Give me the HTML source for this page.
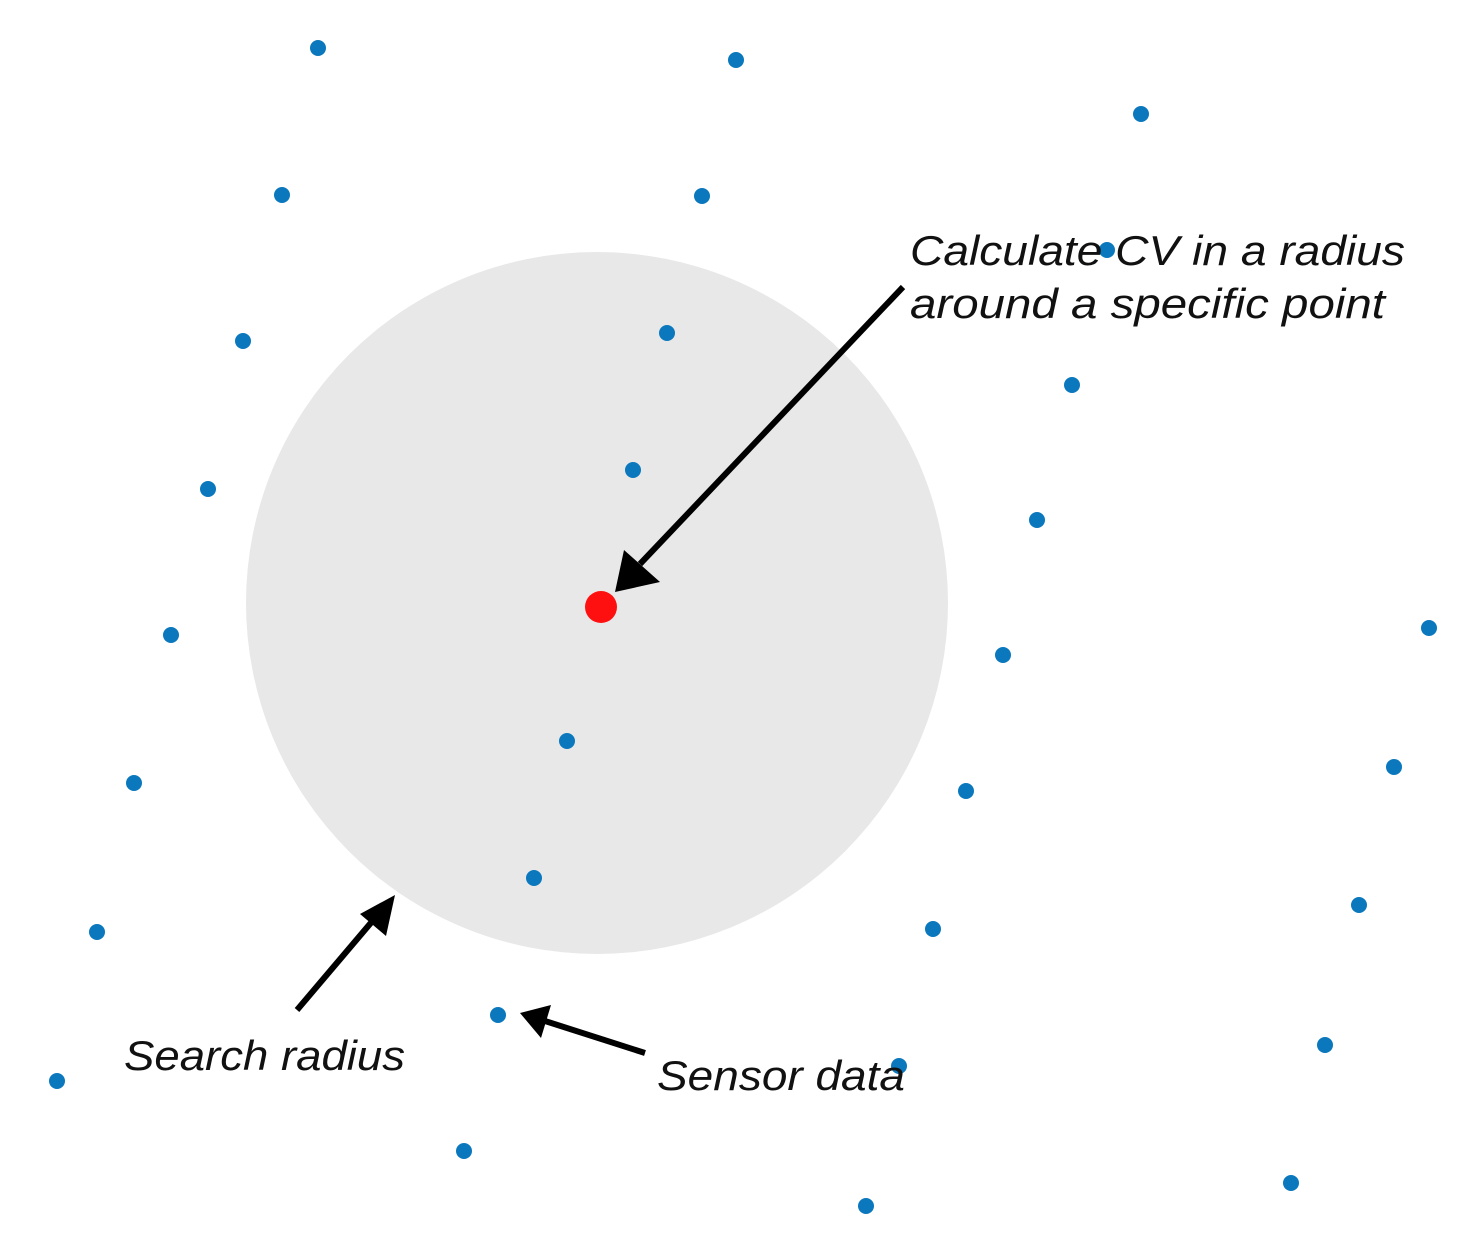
<!DOCTYPE html>
<html><head><meta charset="utf-8"><style>html,body{margin:0;padding:0;background:#fff}svg{display:block}</style></head>
<body>
<svg width="1479" height="1251" viewBox="0 0 1479 1251" xmlns="http://www.w3.org/2000/svg">
<rect width="1479" height="1251" fill="#fff"/>
<circle cx="597" cy="603" r="351" fill="#e8e8e8"/>
<g fill="#0b78bd">
<circle cx="318" cy="48" r="8"/><circle cx="736" cy="60" r="8"/><circle cx="1141" cy="114" r="8"/>
<circle cx="282" cy="195" r="8"/><circle cx="702" cy="196" r="8"/><circle cx="1107" cy="250" r="8"/>
<circle cx="243" cy="341" r="8"/><circle cx="667" cy="333" r="8"/><circle cx="1072" cy="385" r="8"/>
<circle cx="208" cy="489" r="8"/><circle cx="633" cy="470" r="8"/><circle cx="1037" cy="520" r="8"/>
<circle cx="171" cy="635" r="8"/><circle cx="1003" cy="655" r="8"/><circle cx="1429" cy="628" r="8"/>
<circle cx="134" cy="783" r="8"/><circle cx="567" cy="741" r="8"/><circle cx="966" cy="791" r="8"/><circle cx="1394" cy="767" r="8"/>
<circle cx="97" cy="932" r="8"/><circle cx="534" cy="878" r="8"/><circle cx="933" cy="929" r="8"/><circle cx="1359" cy="905" r="8"/>
<circle cx="57" cy="1081" r="8"/><circle cx="498" cy="1015" r="8"/><circle cx="899" cy="1066" r="8"/><circle cx="1325" cy="1045" r="8"/>
<circle cx="464" cy="1151" r="8"/><circle cx="866" cy="1206" r="8"/><circle cx="1291" cy="1183" r="8"/>
</g>
<circle cx="601" cy="607" r="16" fill="#ff1010"/>
<g stroke="#000" stroke-width="6" fill="none">
<line x1="903" y1="287" x2="640" y2="564"/>
<line x1="297" y1="1010" x2="375" y2="918"/>
<line x1="645" y1="1053" x2="545" y2="1021"/>
</g>
<g fill="#000">
<polygon points="615,592 624,550 660,582"/>
<polygon points="395,895 386,936 360,914"/>
<polygon points="520,1013 551,1005 541,1038"/>
</g>
<g font-family="'Liberation Sans',sans-serif" font-style="italic" font-size="42" fill="#111">
<text x="910" y="265" textLength="495" lengthAdjust="spacingAndGlyphs">Calculate CV in a radius</text>
<text x="910" y="318" textLength="475" lengthAdjust="spacingAndGlyphs">around a specific point</text>
<text x="124" y="1070" textLength="281" lengthAdjust="spacingAndGlyphs">Search radius</text>
<text x="657" y="1090" textLength="248" lengthAdjust="spacingAndGlyphs">Sensor data</text>
</g>
</svg>
</body></html>
